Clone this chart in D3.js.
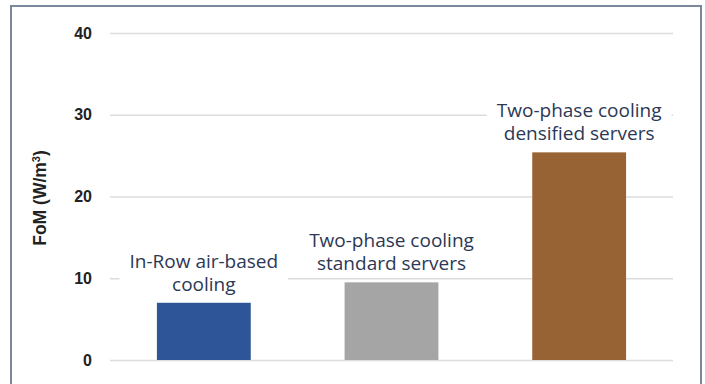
<!DOCTYPE html>
<html>
<head>
<meta charset="utf-8">
<script src="https://cdn.jsdelivr.net/npm/d3@7"></script>
<style>
  html, body { margin: 0; padding: 0; background: #fff; }
  svg { display: block; }
</style>
</head>
<body>
<svg id="chart" width="705" height="384"></svg>
<script>
// FoM by cooling configuration
const categories = ["In-Row air-based cooling", "Two-phase cooling standard servers", "Two-phase cooling densified servers"];
const labelLines = [["In-Row air-based", "cooling"], ["Two-phase cooling", "standard servers"], ["Two-phase cooling", "densified servers"]];
const values = [7.0, 9.5, 25.4];
const colors = ["#2e5597", "#a5a5a5", "#976334"];
const yTicks = [0, 10, 20, 30, 40];

const svg = d3.select("#chart");
const W = 705, H = 384;
const margin = { left: 110, right: 32, top: 33 };
const y0 = 360;

// outer frame
svg.append("rect")
  .attr("x", 11).attr("y", 6)
  .attr("width", 690).attr("height", 400)
  .attr("fill", "#fff")
  .attr("stroke", "#7d879c")
  .attr("stroke-width", 2);

const x = d3.scaleBand()
  .domain(categories)
  .range([margin.left, W - margin.right])
  .paddingInner(0.5)
  .paddingOuter(0.25);

const y = d3.scaleLinear()
  .domain([0, 40])
  .range([y0, margin.top]);

// gridlines and tick labels
const yAxis = d3.axisLeft(y)
  .tickValues(yTicks)
  .tickSize(-(W - margin.right - margin.left))
  .tickPadding(18)
  .tickFormat(d3.format("d"));

const ga = svg.append("g")
  .attr("transform", `translate(${margin.left},0)`)
  .call(yAxis);
ga.select(".domain").remove();
ga.selectAll(".tick line").attr("stroke", "#dcdcdc").attr("stroke-width", 1.3);
ga.selectAll(".tick text")
  .attr("font-family", "Arial, 'Liberation Sans', sans-serif")
  .attr("font-weight", "bold")
  .attr("font-size", 16)
  .attr("fill", "#222");

// axis title
const title = svg.append("text")
  .attr("transform", "translate(46,198) rotate(-90)")
  .attr("text-anchor", "middle")
  .attr("font-family", "Arial, 'Liberation Sans', sans-serif")
  .attr("font-weight", "bold")
  .attr("font-size", 17.5)
  .attr("fill", "#222");
title.append("tspan").text("FoM (W/m");
title.append("tspan").attr("baseline-shift", "super").attr("font-size", 11).text("3");
title.append("tspan").text(")");

// bars
svg.append("g").selectAll("rect")
  .data(values)
  .join("rect")
  .attr("x", (d, i) => x(categories[i]))
  .attr("width", x.bandwidth())
  .attr("y", d => y(d))
  .attr("height", d => y0 - y(d))
  .attr("fill", (d, i) => colors[i]);

// category labels above each bar, on a white backing
const lg = svg.append("g");
values.forEach((v, i) => {
  const cx = x(categories[i]) + x.bandwidth() / 2;
  const lastBase = y(v) - 12;
  const g = lg.append("g");
  const bg = g.append("rect").attr("fill", "#fff");
  const t = g.append("text")
    .attr("text-anchor", "middle")
    .attr("font-family", "'Open Sans', sans-serif")
    .attr("font-size", 19)
    .attr("fill", "#2c3855");
  const lines = labelLines[i];
  lines.forEach((ln, j) => {
    t.append("tspan")
      .attr("x", cx)
      .attr("y", lastBase - (lines.length - 1 - j) * 23)
      .text(ln);
  });
  const bb = t.node().getBBox();
  bg.attr("x", bb.x - 10).attr("y", bb.y)
    .attr("width", bb.width + 20).attr("height", bb.height);
});
</script>
</body>
</html>
